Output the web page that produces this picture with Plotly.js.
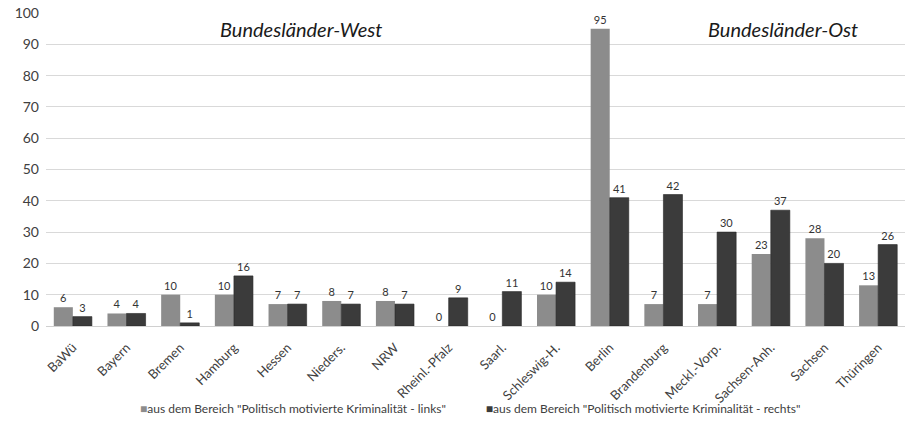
<!DOCTYPE html>
<html>
<head>
<meta charset="utf-8">
<script src="https://cdn.plot.ly/plotly-3.0.1.min.js"></script>
<style>
  html, body { margin: 0; padding: 0; background: #fff; }
  #chart { width: 907px; height: 431px; }
</style>
</head>
<body>
<div id="chart"></div>
<script>
// Federal states: western states first, then eastern states
const states = ["BaWü", "Bayern", "Bremen", "Hamburg", "Hessen", "Nieders.", "NRW",
  "Rheinl.-Pfalz", "Saarl.", "Schleswig-H.", "Berlin", "Brandenburg",
  "Meckl.-Vorp.", "Sachsen-Anh.", "Sachsen", "Thüringen"];
const linksValues = [6, 4, 10, 10, 7, 8, 8, 0, 0, 10, 95, 7, 7, 23, 28, 13];
const rechtsValues = [3, 4, 1, 16, 7, 7, 7, 9, 11, 14, 41, 42, 30, 37, 20, 26];
const seriesNames = [
  'aus dem Bereich "Politisch motivierte Kriminalität - links"',
  'aus dem Bereich "Politisch motivierte Kriminalität - rechts"'
];
const seriesColors = ["#8c8c8c", "#3b3b3b"];
const yTicks = [0, 10, 20, 30, 40, 50, 60, 70, 80, 90, 100];

const FONT = "Lato, 'Open Sans', sans-serif";
const TXT = "#404040";

const traces = [
  {
    type: "bar", name: seriesNames[0], x: states, y: linksValues,
    marker: { color: seriesColors[0], line: { width: 0 } },
    text: linksValues.map(String), textposition: "outside", cliponaxis: false,
    textfont: { family: FONT, size: 11, color: "#333333" }
  },
  {
    type: "bar", name: seriesNames[1], x: states, y: rechtsValues,
    marker: { color: seriesColors[1], line: { color: "#262626", width: 0.6 } },
    text: rechtsValues.map(String), textposition: "outside", cliponaxis: false,
    textfont: { family: FONT, size: 11, color: "#333333" }
  }
];

// Legend drawn as a single centred line below the axis
const legendLine = seriesNames.map((n, i) =>
  '<span style="color:' + seriesColors[i] + '">■</span>' + n).join("             ");

const layout = {
  width: 907, height: 431,
  margin: { l: 46, r: 2, t: 13, b: 105 },
  paper_bgcolor: "#fff", plot_bgcolor: "#fff",
  font: { family: FONT, color: TXT },
  barmode: "group", bargap: 0.29, bargroupgap: 0,
  showlegend: false,
  xaxis: {
    type: "category", tickangle: -45, ticks: "", automargin: false,
    tickfont: { family: FONT, size: 13, color: TXT }, ticklabelstandoff: 8,
    showline: true, linecolor: "#d0d0d0", linewidth: 1, showgrid: false
  },
  yaxis: {
    range: [0, 100], tickvals: yTicks, ticks: "", automargin: false,
    tickfont: { family: FONT, size: 14, color: TXT },
    showgrid: true, gridcolor: "#d9d9d9", gridwidth: 1, zeroline: false,
    showline: false, ticklabelstandoff: 6
  },
  annotations: [
    { text: "<i>Bundesländer-West</i>", xref: "paper", yref: "paper", x: 0.297, y: 0.948,
      xanchor: "center", yanchor: "middle",
      showarrow: false, font: { family: FONT, size: 20, color: "#1a1a1a" } },
    { text: "<i>Bundesländer-Ost</i>", xref: "paper", yref: "paper", x: 0.858, y: 0.948,
      xanchor: "center", yanchor: "middle",
      showarrow: false, font: { family: FONT, size: 20, color: "#1a1a1a" } },
    { text: legendLine, xref: "paper", yref: "paper", x: 0.494, y: -0.262,
      xanchor: "center", yanchor: "middle",
      showarrow: false, font: { family: FONT, size: 12, color: TXT } }
  ]
};

Plotly.newPlot("chart", traces, layout, { displayModeBar: false, staticPlot: true });
</script>
</body>
</html>
